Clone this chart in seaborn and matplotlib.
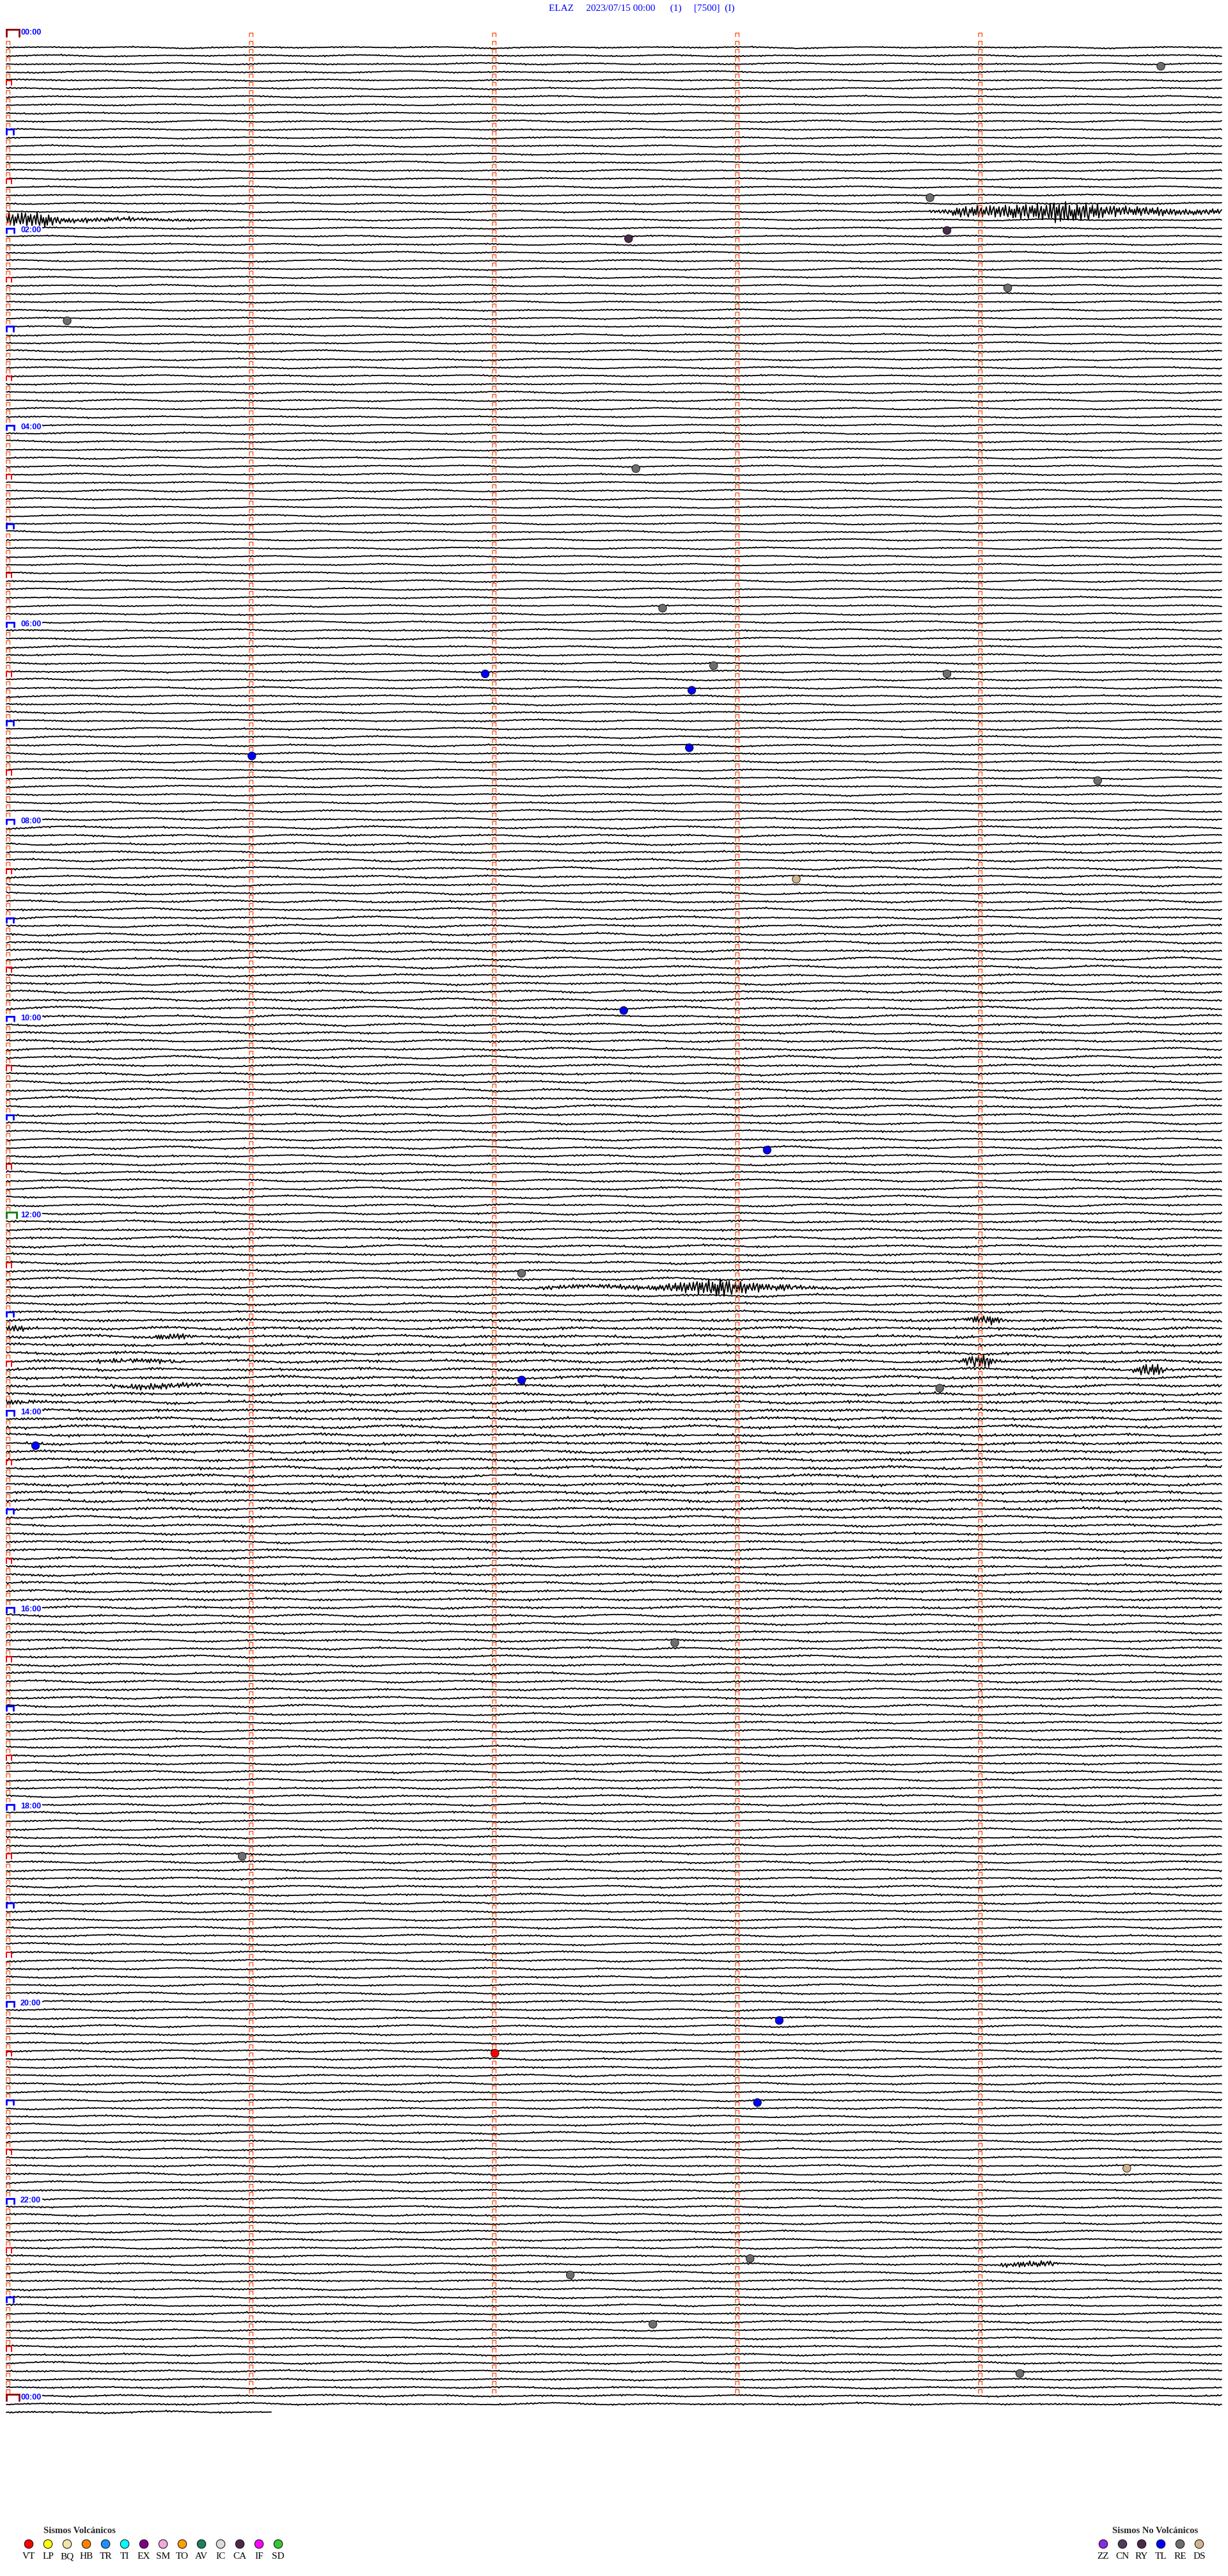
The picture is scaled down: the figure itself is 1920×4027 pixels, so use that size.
import numpy as np
import pandas as pd
import matplotlib
matplotlib.use("Agg")
from matplotlib import pyplot as plt
from matplotlib.patches import Rectangle
import seaborn as sns

# ---------------- header ----------------
TITLE = "ELAZ     2023/07/15 00:00      (1)     [7500]  (I)"

# ---------------- helicorder rows (5 min per row) ----------------
ROW_MINUTES = 5
N_ROWS = 290                 # row 0 is empty, row 289 is partial
LAST_ROW_END_MIN = 1.09
MINUTE_TICKS = [0, 1, 2, 3, 4]

HOUR_LABEL_ROWS = [0, 24, 48, 72, 96, 120, 144, 168, 192, 216, 240, 264, 288]
HOUR_LABELS = ["00:00", "02:00", "04:00", "06:00", "08:00", "10:00", "12:00",
               "14:00", "16:00", "18:00", "20:00", "22:00", "00:00"]
HOUR_LABEL_COLORS = ["#8b0000", "#0000ff", "#0000ff", "#0000ff", "#0000ff", "#0000ff", "#008000",
                     "#0000ff", "#0000ff", "#0000ff", "#0000ff", "#0000ff", "#8b0000"]

# background level of each hour (px): long swell and short jitter
SWELL_PX = [1.8, 1.8, 1.8, 1.9, 2.0, 2.0, 2.1, 2.2, 2.6, 2.8, 2.8, 2.6,
            2.4, 2.5, 2.5, 2.4, 2.4, 2.3, 2.2, 2.2, 2.2, 2.1, 2.1, 2.0]
NOISE_PX = [0.9, 0.9, 0.9, 0.9, 0.9, 0.9, 1.0, 1.0, 1.2, 1.3, 1.3, 1.2,
            1.4, 1.9, 1.9, 1.5, 1.3, 1.2, 1.2, 1.1, 1.1, 1.1, 1.1, 1.1]

# wiggle shapes
SWELL_A = [0.0, 0.35, 0.1, -0.45, -0.85, -0.5, 0.15, 0.7, 0.9, 0.4,
           -0.2, -0.65, -0.3, 0.25, 0.55, 0.2, -0.35, -0.95, -0.6, -0.1]
SWELL_B = [0.5, 0.8, 0.2, -0.4, -0.7, -0.2, 0.4, 0.6, 0.0, -0.6, -0.9, -0.3, 0.2]
J1 = [0, 1, -1, 0, 2, -1, 0, 1, 0, -2, 1, 0, -1, 1, 0, 0, 2, -2, 1, 0, -1,
      0, 1, -1, 2, 0, -1, 0, 0, 1, -2, 1, 0, -1, 1, 0, 2, -1, 0, -1, 1]
J2 = [1, 0, -1, 1, -1, 0, 0, 2, -1, 0, 1, -2, 0, 1, 0, -1, 1, 0, -1, 2,
      0, -1, 0, 1, -1, 0, 1, -2, 1, 0, -1]
SPIKE = [0.3, -0.8, 0.9, -0.4, 0.6, -1.0, 0.2, 0.7, -0.6, 0.95, -0.3, -0.9, 0.5, -0.2,
         0.8, -0.7, 0.4, -0.5, 1.0, -0.85, 0.1, 0.6, -0.95, 0.35, -0.45, 0.75, -0.15,
         -0.65, 0.9, -0.55, 0.25, 0.85, -1.0, 0.45, -0.3, 0.7, -0.8, 0.15, 0.55, -0.6,
         0.95, -0.25, -0.75, 0.65, -0.4, 0.3, -0.9]

# recorded events: row, start minute within row, envelope (px, one value per 0.05 min)
BURST_ROW = [21, 22, 152, 157, 158, 161, 164, 166, 156, 161, 162, 271]
BURST_START = [3.80, 0.0, 2.17, 0.0, 0.58, 0.37, 0.42, 0.0, 3.95, 3.92, 4.63, 4.09]
BURST_ENV = [
    [1.5, 3, 6, 8, 9, 9, 10, 11, 11, 12, 16, 18, 13, 14, 10, 8, 8, 7, 6, 6, 5, 5, 4, 4, 4],
    [10, 11, 12, 12, 6, 4, 3.5, 3.5, 3, 3, 3, 2.5, 2.5, 2, 2, 1.5, 1.5, 1, 1, 0.5],
    [2, 3, 3, 3, 3, 3, 3, 3, 3.5, 3.5, 4, 5, 7, 9, 12, 14, 12, 10, 8, 6, 5, 4, 3,
     2.5, 2, 1.5, 1],
    [5, 5, 1],
    [2, 3, 4, 6, 1],
    [2, 3, 3, 3, 3, 3, 3, 2],
    [2, 3, 4, 4, 4, 4, 3, 3, 2],
    [3, 3, 3, 1],
    [2, 6, 7, 2],
    [3, 9, 10, 4, 1],
    [2, 8, 10, 3],
    [2, 4, 5, 5, 4, 2],
]

# classified events (marker circles)
EVENT_ROW = [4, 20, 25, 24, 31, 35, 53, 70, 77, 78, 78, 80, 88, 87, 91, 103,
             119, 136, 151, 164, 172, 196, 222, 242, 246, 252, 260, 271, 273, 279, 285, 165]
EVENT_MIN = [4.75, 3.80, 2.56, 3.87, 4.12, 0.25, 2.59, 2.70, 2.91, 1.97, 3.87, 2.82,
             1.01, 2.81, 4.49, 3.25, 2.54, 3.13, 2.12, 2.12, 0.12, 2.75, 0.97, 3.18,
             2.01, 3.09, 4.61, 3.06, 2.32, 2.66, 4.17, 3.84]
EVENT_TYPE = ["RE", "RE", "CA", "CA", "RE", "RE", "RE", "RE", "RE", "TL", "RE", "TL",
              "TL", "TL", "RE", "DS", "TL", "TL", "RE", "TL", "TL", "RE", "RE", "TL",
              "VT", "TL", "DS", "RE", "RE", "RE", "RE", "RE"]

# legend
VOLC_CODES = ["VT", "LP", "BQ", "HB", "TR", "TI", "EX", "SM", "TO", "AV", "IC", "CA", "IF", "SD"]
VOLC_COLORS = ["#ff0000", "#ffff00", "#f3e5a8", "#ff8000", "#1e90ff", "#00ffff", "#800080",
               "#eeaadd", "#ffa000", "#1e7f5f", "#dcdcdc", "#4b2a4b", "#ff00ff", "#32c832"]
NONVOLC_CODES = ["ZZ", "CN", "RY", "TL", "RE", "DS"]
NONVOLC_COLORS = ["#8a2be2", "#4e3b5e", "#4b2a4b", "#0000ff", "#6e6e6e", "#d2b48c"]

# ---------------- pixel layout ----------------
W_PX, H_PX = 1920, 4027
X0_PX, PX_PER_MIN = 10.0, 380.0
Y0_PX, PX_PER_ROW = 61.2, 12.836
STEP_PX = 2


def px_x(px):
    return (px - X0_PX) / PX_PER_MIN


def px_y(py):
    return (py - Y0_PX) / PX_PER_ROW


sns.set_style("white")
fig = plt.figure(figsize=(W_PX / 100, H_PX / 100), dpi=100)
ax = fig.add_axes([0, 0, 1, 1])
ax.set_xlim(px_x(0), px_x(W_PX))
ax.set_ylim(px_y(H_PX), px_y(0))
ax.axis("off")

# ---------------- traces ----------------
frames = []
for r in range(1, N_ROWS):
    end_px = ROW_MINUTES * PX_PER_MIN if r < N_ROWS - 1 else LAST_ROW_END_MIN * PX_PER_MIN
    xp = np.arange(0, end_px + 0.1, STEP_PX)
    hour = min(r // 12, 23)
    na, nb = len(SWELL_A), len(SWELL_B)
    sa = np.interp((xp + r * 131) % (na * 24), np.arange(na + 1) * 24, SWELL_A + SWELL_A[:1])
    sb = np.interp((xp + r * 89) % (nb * 37), np.arange(nb + 1) * 37, SWELL_B + SWELL_B[:1])
    idx = (xp // STEP_PX).astype(int)
    jit = (np.take(J1, (idx + r * 7) % len(J1)) + np.take(J2, (idx + r * 13) % len(J2))) / 3.0
    amp = SWELL_PX[hour] * (0.6 * sa + 0.4 * sb) + NOISE_PX[hour] * jit
    for br, bs, env in zip(BURST_ROW, BURST_START, BURST_ENV):
        if br != r:
            continue
        bx = bs * PX_PER_MIN + np.arange(len(env)) * 19.0
        e = np.interp(xp, bx, env, left=0, right=0)
        amp = amp + e * np.take(SPIKE, (idx + r * 5) % len(SPIKE))
    frames.append(pd.DataFrame({"minute": xp / PX_PER_MIN,
                                "row": r - amp / PX_PER_ROW,
                                "trace": r}))
traces = pd.concat(frames, ignore_index=True)
sns.lineplot(data=traces, x="minute", y="row", units="trace", estimator=None,
             sort=False, color="black", lw=1.3, ax=ax, zorder=2)

# ---------------- minute ticks and hour brackets ----------------
def bracket(xs, ys, m, r, w_px, top, bot):
    w = w_px / PX_PER_MIN
    xs += [m, m, m + w, m + w, np.nan]
    ys += [r - bot, r - top, r - top, r - bot, np.nan]


tick_x, tick_y = [], []
half_x, half_y = [], []
hour_x, hour_y = [], []
for r in range(0, 288):
    for m in MINUTE_TICKS:
        if m == 0 and r % 6 == 0:
            if r % 24 == 0:
                continue
            if r % 12 == 0:
                bracket(hour_x, hour_y, m, r, 11.0, 1.0, 0.42)
            else:
                bracket(half_x, half_y, m, r, 8.0, 0.98, 0.38)
        else:
            bracket(tick_x, tick_y, m, r, 5.5, 0.74, 0.3)
ax.plot(tick_x, tick_y, color="#ff4a10", lw=0.95, zorder=4, solid_joinstyle="miter")
ax.plot(half_x, half_y, color="#ff0000", lw=1.4, zorder=4, solid_joinstyle="miter")
ax.plot(hour_x, hour_y, color="#0000ff", lw=2.0, zorder=4, solid_joinstyle="miter")

for r, lab, col in zip(HOUR_LABEL_ROWS, HOUR_LABELS, HOUR_LABEL_COLORS):
    if r > 0:
        ax.add_patch(Rectangle((px_x(6), r - 1.27), 60 / PX_PER_MIN, 0.85,
                               facecolor="white", edgecolor="none", zorder=3))
    bx, by = [], []
    if col == "#8b0000":
        bracket(bx, by, 0, r, 20.0, 1.18, 0.35)
    elif col == "#008000":
        bracket(bx, by, 0, r, 16.0, 1.1, 0.42)
    else:
        bracket(bx, by, 0, r, 11.5, 0.98, 0.4)
    ax.plot(bx, by, color=col, lw=2.0, zorder=4, solid_joinstyle="miter")
    ax.text(px_x(32), r - 0.76, lab, color="#0000ff", fontsize=9, fontweight="bold",
            family=["Liberation Sans", "DejaVu Sans"], ha="left", va="center", zorder=5)

# ---------------- event circles ----------------
type_colors = dict(zip(VOLC_CODES + NONVOLC_CODES, VOLC_COLORS + NONVOLC_COLORS))
events = pd.DataFrame({"minute": EVENT_MIN,
                       "row": np.array(EVENT_ROW) - 0.7,
                       "type": EVENT_TYPE})
sns.scatterplot(data=events, x="minute", y="row", hue="type", palette=type_colors,
                s=80, edgecolor="black", linewidth=0.6, legend=False, ax=ax, zorder=6)

# ---------------- title ----------------
fig.text(1003 / W_PX, 1 - 13 / H_PX, TITLE, color="#0000ff", fontsize=11,
         family=["Liberation Serif", "DejaVu Serif"], ha="center", va="center")

# ---------------- bottom legend ----------------
def legend_row(codes, colors, x_first, heading, head_x):
    xs = [px_x(x_first + 30 * i) for i in range(len(codes))]
    leg = pd.DataFrame({"minute": xs, "row": px_y(3977), "type": codes})
    sns.scatterplot(data=leg, x="minute", y="row", hue="type",
                    palette=dict(zip(codes, colors)), s=95, edgecolor="black",
                    linewidth=0.7, legend=False, ax=ax, zorder=6)
    for x, c in zip(xs, codes):
        ax.text(x, px_y(3997), c, fontsize=11, family=["Liberation Serif", "DejaVu Serif"],
                ha="center", va="center", color="black")
    ax.text(px_x(head_x), px_y(3957), heading, fontsize=10.5, fontweight="bold",
            family=["Liberation Serif", "DejaVu Serif"], ha="center", va="center")


legend_row(VOLC_CODES, VOLC_COLORS, 45, "Sismos Volcánicos", 124)
legend_row(NONVOLC_CODES, NONVOLC_COLORS, 1725, "Sismos No Volcánicos", 1806)

fig.savefig("out.png", dpi=100, facecolor="white")
